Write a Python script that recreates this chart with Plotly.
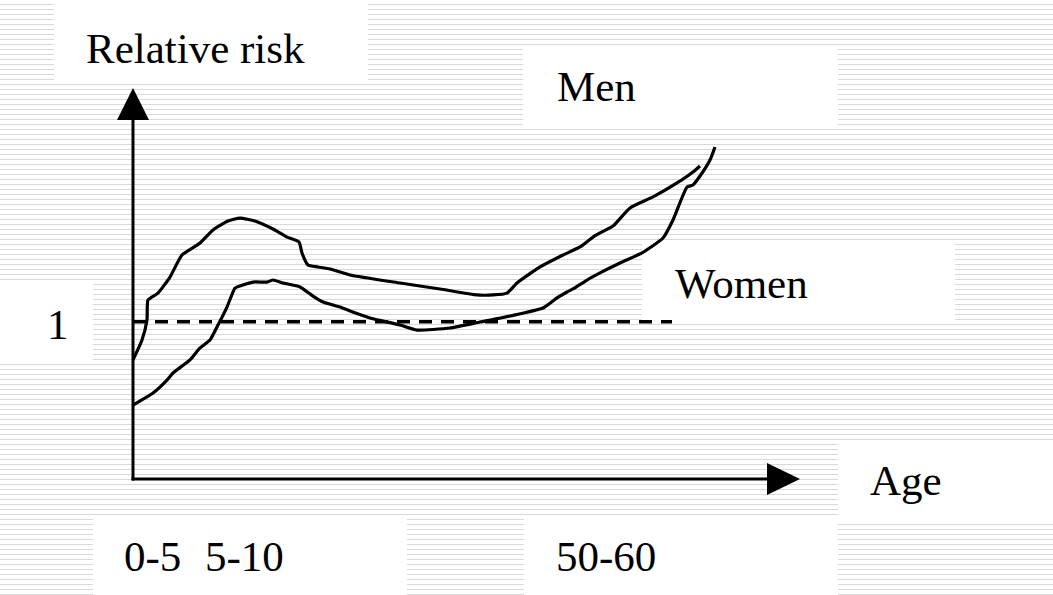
import plotly.graph_objects as go

W, H = 1053, 595

# ---- data (schematic: x = age position, y = relative risk) ----
men_x = [0, 9, 14, 15, 25, 37, 49, 67, 80, 95, 107, 122, 140, 154, 166, 169, 175, 185, 197, 217,
         267, 307, 344, 360, 374, 384, 407, 430, 447, 460, 467, 480, 497, 520, 544, 560, 567]
men_y = [0.757, 0.884, 1.011, 1.138, 1.182, 1.284, 1.424, 1.500, 1.583, 1.640, 1.659, 1.640, 1.589,
         1.538, 1.507, 1.437, 1.360, 1.348, 1.335, 1.297, 1.246, 1.208, 1.170, 1.170, 1.182, 1.246,
         1.348, 1.424, 1.475, 1.538, 1.564, 1.608, 1.723, 1.793, 1.882, 1.952, 1.990]

women_x = [0, 20, 34, 40, 57, 67, 77, 85, 94, 102, 107, 120, 134, 140, 150, 167, 180, 190, 207, 217,
           237, 267, 284, 317, 347, 377, 410, 424, 434, 440, 454, 467, 487, 509, 530, 540, 554, 560,
           567, 577, 582]
women_y = [0.470, 0.547, 0.629, 0.674, 0.757, 0.833, 0.884, 0.979, 1.093, 1.214, 1.227, 1.252, 1.252,
           1.265, 1.246, 1.221, 1.163, 1.125, 1.093, 1.068, 1.024, 0.979, 0.947, 0.960, 0.998, 1.036,
           1.087, 1.151, 1.189, 1.208, 1.265, 1.310, 1.373, 1.437, 1.532, 1.647, 1.856, 1.869, 1.926,
           2.028, 2.111]

baseline_x = [0, 539]
baseline_y = [1, 1]

age_labels = ["0-5", "5-10", "50-60"]
y_label = "Relative risk"
x_label = "Age"
series_labels = ["Men", "Women"]
tick_one = "1"

# pixel geometry helpers
X0, Y0, PPU = 133, 479, 157.3
xr = [-X0, W - X0]
yr = [(Y0 - H) / PPU, Y0 / PPU]


def px(x):
    return x / W


def py(y):
    return 1 - y / H


def dx(p):
    return p - X0


def dy(p):
    return (Y0 - p) / PPU


fig = go.Figure()

shapes = []
# striped background
y = 4
while y < H:
    shapes.append(dict(type="line", xref="paper", yref="paper", x0=0, x1=1, y0=py(y + 0.5), y1=py(y + 0.5),
                       line=dict(color="#d9d9d9", width=1), layer="below"))
    y += 5

# white text boxes (pixel rects)
boxes = [(54, 4, 368, 82), (523, 47, 838, 127), (642, 243, 955, 323), (0, 281, 93, 360),
         (838, 442, 1053, 520), (93, 517, 407, 595), (524, 517, 838, 595)]
for (a, b, c, d) in boxes:
    shapes.append(dict(type="rect", xref="paper", yref="paper", x0=px(a), x1=px(c), y0=py(d), y1=py(b),
                       fillcolor="white", line=dict(width=0), layer="below"))

# axes with arrow heads
shapes.append(dict(type="line", xref="x", yref="y", x0=0, x1=0, y0=dy(480.5), y1=dy(118),
                   line=dict(color="black", width=3)))
shapes.append(dict(type="line", xref="x", yref="y", x0=dx(131.5), x1=dx(769), y0=0, y1=0,
                   line=dict(color="black", width=3)))
shapes.append(dict(type="path", xref="x", yref="y",
                   path=f"M {dx(117)},{dy(120)} L {dx(149)},{dy(120)} L {dx(133)},{dy(88)} Z",
                   fillcolor="black", line=dict(width=0)))
shapes.append(dict(type="path", xref="x", yref="y",
                   path=f"M {dx(767)},{dy(463)} L {dx(767)},{dy(495)} L {dx(800)},{dy(479)} Z",
                   fillcolor="black", line=dict(width=0)))

fig.add_trace(go.Scatter(x=baseline_x, y=baseline_y, mode="lines", name="1",
                         line=dict(color="black", width=3.5, dash="13px,9px")))
fig.add_trace(go.Scatter(x=men_x, y=men_y, mode="lines", name=series_labels[0],
                         line=dict(color="black", width=3.2, shape="spline", smoothing=0.5)))
fig.add_trace(go.Scatter(x=women_x, y=women_y, mode="lines", name=series_labels[1],
                         line=dict(color="black", width=3.2, shape="spline", smoothing=0.5)))

font = dict(family="Liberation Serif", size=43, color="black")
ann = []


def add_text(text, x, y, anchor="left"):
    ann.append(dict(text=text, xref="paper", yref="paper", x=px(x), y=py(y), xanchor=anchor,
                    yanchor="middle", showarrow=False, font=font))


add_text(y_label, 84, 48)
add_text(series_labels[0], 555, 86)
add_text(series_labels[1], 673, 283)
add_text(tick_one, 57.5, 325, "center")
add_text(x_label, 868, 480)
add_text(age_labels[0], 122, 556)
add_text(age_labels[1], 203, 556)
add_text(age_labels[2], 554, 556)

fig.update_layout(
    width=W, height=H, autosize=False,
    margin=dict(l=0, r=0, t=0, b=0),
    paper_bgcolor="white", plot_bgcolor="rgba(0,0,0,0)",
    showlegend=False,
    xaxis=dict(range=xr, visible=False, fixedrange=True),
    yaxis=dict(range=yr, visible=False, fixedrange=True),
    shapes=shapes, annotations=ann,
)

fig.write_html("out.html", config={"displayModeBar": False},
               post_script="document.body.style.margin='0';document.body.style.overflow='hidden';")
